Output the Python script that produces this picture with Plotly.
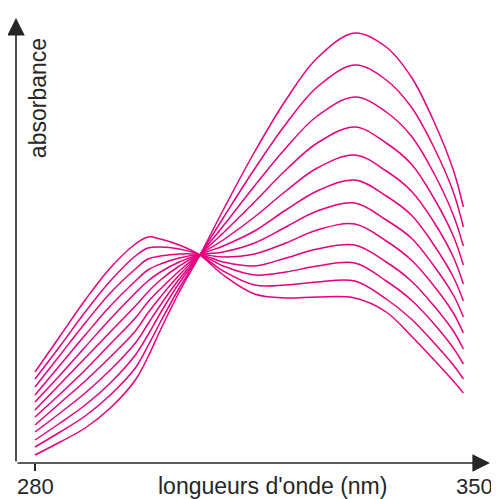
import plotly.graph_objects as go

# wavelengths (nm)
wavelengths = [280, 284, 288, 292, 296, 298, 300, 303, 306.3, 310, 315, 320, 325, 331, 336, 340, 343.5, 346.7, 348.3]

# absorbance (arbitrary units) of each spectrum
spec_01 = [8, 21, 35, 55, 83, 106, 133, 171, 208, 253, 311, 363, 405, 430, 416, 386, 343, 293, 256]
spec_02 = [16, 31, 47, 68, 95, 117, 141, 175, 208, 245, 294, 339, 376, 398, 383, 356, 317, 271, 236]
spec_03 = [23, 40, 58, 80, 108, 128, 150, 180, 208, 237, 277, 315, 347, 366, 351, 327, 291, 248, 217]
spec_04 = [31, 50, 70, 93, 120, 139, 158, 184, 208, 230, 261, 293, 320, 336, 320, 299, 266, 227, 198]
spec_05 = [38, 60, 82, 106, 132, 150, 166, 188, 208, 223, 246, 272, 295, 308, 292, 272, 242, 206, 179]
spec_06 = [46, 69, 93, 119, 145, 161, 174, 192, 208, 217, 232, 253, 272, 283, 267, 248, 219, 186, 162]
spec_07 = [53, 79, 105, 131, 157, 171, 183, 197, 208, 211, 220, 236, 252, 260, 243, 225, 198, 168, 146]
spec_08 = [61, 88, 116, 144, 170, 182, 191, 201, 208, 206, 209, 220, 233, 239, 222, 203, 178, 150, 130]
spec_09 = [68, 98, 128, 157, 182, 193, 199, 205, 208, 201, 197, 205, 214, 218, 201, 182, 158, 132, 114]
spec_10 = [76, 108, 140, 170, 194, 204, 207, 209, 208, 197, 188, 191, 197, 200, 182, 163, 140, 115, 99]
spec_11 = [84, 117, 151, 182, 207, 215, 216, 214, 208, 192, 178, 178, 181, 182, 164, 144, 121, 98, 84]
spec_12 = [91, 127, 163, 195, 219, 226, 224, 218, 208, 188, 169, 165, 166, 165, 151, 127, 104, 82, 70]

spectra = [spec_01, spec_02, spec_03, spec_04, spec_05, spec_06,
           spec_07, spec_08, spec_09, spec_10, spec_11, spec_12]

tick_vals = [280, 350]
tick_text = ["280", "350"]
x_title = "longueurs d'onde (nm)"
y_title = "absorbance"

MAGENTA = "rgb(230,0,126)"
INK = "#262626"
FONT = "Liberation Sans, Arial, sans-serif"

x_min, x_max = 276.97, 352.55
y_min, y_max = 0, 445

fig = go.Figure()
for s in spectra:
    fig.add_trace(go.Scatter(
        x=wavelengths, y=s, mode="lines",
        line=dict(color=MAGENTA, width=1.5, shape="spline", smoothing=1.0),
        hoverinfo="skip", showlegend=False,
    ))

annotations = [
    dict(x=x_max, y=0, ax=x_min, ay=0, xref="x", yref="y", axref="x", ayref="y",
         text="", showarrow=True, arrowhead=2, arrowsize=2.2, arrowwidth=1.6,
         arrowcolor=INK, standoff=0, startstandoff=0),
    dict(x=x_min, y=y_max, ax=x_min, ay=0, xref="x", yref="y", axref="x", ayref="y",
         text="", showarrow=True, arrowhead=2, arrowsize=2.2, arrowwidth=1.6,
         arrowcolor=INK, standoff=0, startstandoff=0),
    dict(x=317.8, y=-0.052, xref="x", yref="paper", text=x_title, showarrow=False,
         font=dict(family=FONT, size=23, color=INK), xanchor="center", yanchor="middle"),
    dict(x=280.5, y=365, xref="x", yref="y", text=y_title, showarrow=False,
         textangle=-90, font=dict(family=FONT, size=23, color=INK),
         xanchor="center", yanchor="middle"),
]
for v, t in zip(tick_vals, tick_text):
    annotations.append(dict(x=v, y=-0.052, xref="x", yref="paper", text=t, showarrow=False,
                            font=dict(family=FONT, size=22, color=INK),
                            xanchor="center", yanchor="middle"))

# the page body adds an 8px offset, so the figure is 491px and margins are reduced
fig.update_layout(
    template="none",
    width=491, height=491,
    margin=dict(l=8, r=9, t=10, b=36, pad=0),
    paper_bgcolor="white", plot_bgcolor="white",
    font=dict(family=FONT, color=INK, size=22),
    xaxis=dict(range=[x_min, x_max], showgrid=False, zeroline=False, showline=False,
               automargin=False, tickvals=tick_vals, showticklabels=False,
               ticks="outside", ticklen=7, tickwidth=1.5, tickcolor=INK),
    yaxis=dict(range=[y_min, y_max], showgrid=False, zeroline=False, showline=False,
               automargin=False, showticklabels=False, ticks=""),
    annotations=annotations,
)

fig.write_html("out.html")
